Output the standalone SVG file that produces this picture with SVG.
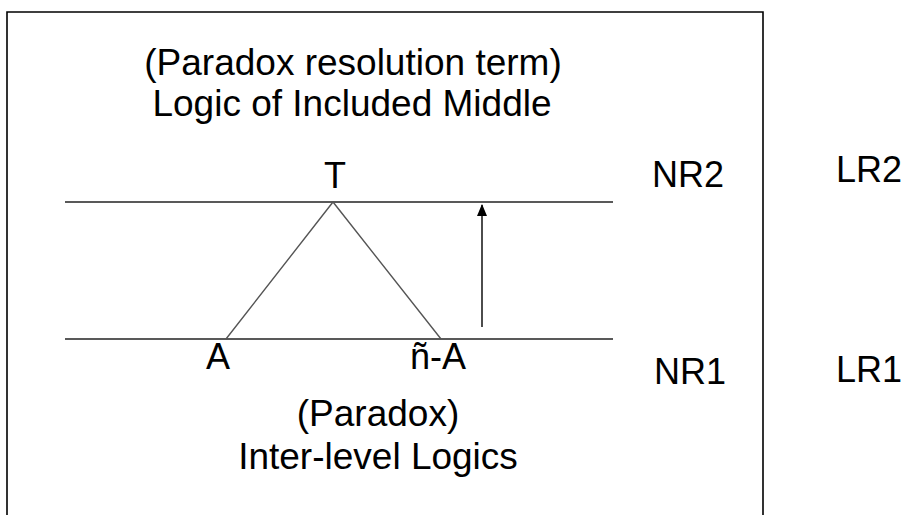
<svg xmlns="http://www.w3.org/2000/svg" width="909" height="515" viewBox="0 0 909 515">
<defs>
<style>
text{font-family:"Liberation Sans",Arial,sans-serif;fill:#000}
.t{font-size:37px}
.l{font-size:36px}
.lvl{stroke:#222;stroke-width:1.4;fill:none}
.tri{stroke:#555;stroke-width:1.4;fill:none}
</style>
<marker id="ah" viewBox="0 0 12 10" refX="11" refY="5" markerWidth="12" markerHeight="10" markerUnits="userSpaceOnUse" orient="auto">
<path d="M0,0 L12,5 L0,10 Z" fill="#000"/>
</marker>
</defs>
<rect width="909" height="515" fill="#fff"/>
<path d="M7,530 V12 H763 V530" fill="none" stroke="#000" stroke-width="1.6"/>
<g id="title">
<text class="t" x="353" y="75" text-anchor="middle">(Paradox resolution term)</text>
<text class="t" x="352" y="116" text-anchor="middle">Logic of Included Middle</text>
</g>
<g id="connectors">
<line class="lvl" x1="65" y1="202" x2="613" y2="202"/>
<line class="lvl" x1="65" y1="339" x2="613" y2="339"/>
<polyline class="tri" points="226,339 333,202 441,339"/>
<line x1="482" y1="327" x2="482" y2="205" stroke="#000" stroke-width="1.4" marker-end="url(#ah)"/>
</g>
<g id="node-T"><text class="l" x="335" y="188" text-anchor="middle">T</text></g>
<g id="node-A"><text class="l" x="218" y="369" text-anchor="middle">A</text></g>
<g id="node-nA"><text class="l" x="438" y="369" text-anchor="middle">ñ-A</text></g>
<g id="label-NR2"><text class="l" x="688" y="187" text-anchor="middle">NR2</text></g>
<g id="label-NR1"><text class="l" x="690" y="384" text-anchor="middle">NR1</text></g>
<g id="label-LR2"><text class="l" x="869" y="182" text-anchor="middle">LR2</text></g>
<g id="label-LR1"><text class="l" x="869" y="382" text-anchor="middle">LR1</text></g>
<g id="bottom">
<text class="t" x="378" y="426" text-anchor="middle">(Paradox)</text>
<text class="t" x="378" y="469" text-anchor="middle">Inter-level Logics</text>
</g>
</svg>
